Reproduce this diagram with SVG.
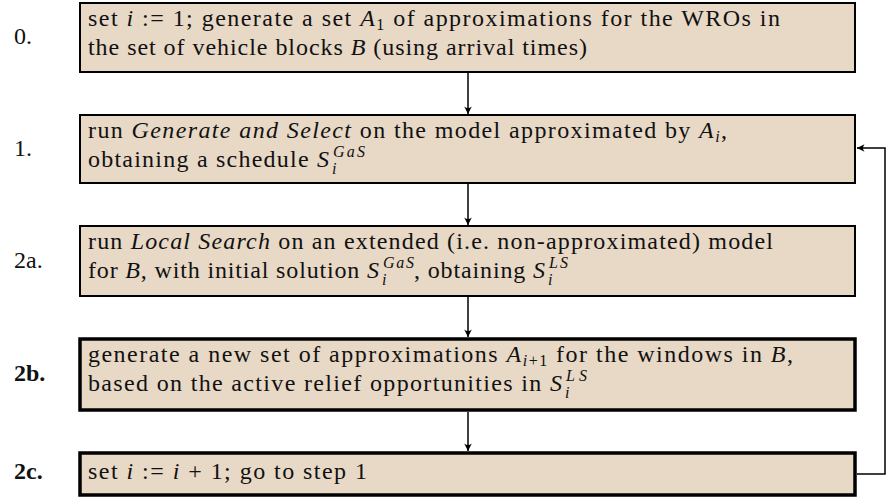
<svg xmlns="http://www.w3.org/2000/svg" width="887" height="498" viewBox="0 0 887 498">
  <defs>
    <marker id="arr" viewBox="-8 -4.5 9 9" refX="0" refY="0" markerWidth="9" markerHeight="9" markerUnits="userSpaceOnUse" orient="auto">
      <path d="M0,0 L-7.5,-3.8 Q-4.5,0 -7.5,3.8 Z" fill="#000"/>
    </marker>
  </defs>
  <style>
    .box { fill: #E8D8C6; stroke: #000; stroke-width: 2; }
    .box.heavy { stroke-width: 3.5; }
    text { font-family: "Liberation Serif", "Times New Roman", serif; font-size: 24px; fill: #111; }
    .it { font-style: italic; }
    .scr { font-size: 16px; }
    .lbl { font-size: 24px; }
    .bold { font-weight: bold; }
    .conn { fill: none; stroke: #000; stroke-width: 1.5; }
  </style>

  <g id="connectors">
    <line class="conn" x1="468" y1="73" x2="468" y2="114" marker-end="url(#arr)"/>
    <line class="conn" x1="468" y1="184" x2="468" y2="225" marker-end="url(#arr)"/>
    <line class="conn" x1="468" y1="297" x2="468" y2="337" marker-end="url(#arr)"/>
    <line class="conn" x1="468" y1="412" x2="468" y2="451" marker-end="url(#arr)"/>
    <path class="conn" d="M857,474 H885 V148 H857" marker-end="url(#arr)"/>
  </g>

  <g id="step0">
    <rect class="box" x="80" y="3" width="775" height="69"/>
    <text class="lbl" x="14" y="44">0.</text>
    <text x="88" y="26" textLength="692">set <tspan class="it">i</tspan> := 1; generate a set <tspan class="it">A</tspan><tspan class="scr" dy="4">1</tspan><tspan dy="-4"> of approximations for the WROs in</tspan></text>
    <text x="88" y="55" textLength="499">the set of vehicle blocks <tspan class="it">B</tspan> (using arrival times)</text>
  </g>

  <g id="step1">
    <rect class="box" x="80" y="115" width="775" height="68"/>
    <text class="lbl" x="14" y="156">1.</text>
    <text x="88" y="138" textLength="639">run <tspan class="it">Generate and Select</tspan> on the model approximated by <tspan class="it">A</tspan><tspan class="scr it" dy="4">i</tspan><tspan dy="-4">,</tspan></text>
    <text x="88" y="167" textLength="241">obtaining a schedule <tspan class="it">S</tspan></text>
    <text class="scr it" x="333" y="157" textLength="32">GaS</text>
    <text class="scr it" x="332" y="173.5">i</text>
  </g>

  <g id="step2a">
    <rect class="box" x="80" y="226" width="775" height="70"/>
    <text class="lbl" x="14" y="268">2a.</text>
    <text x="88" y="249" textLength="685">run <tspan class="it">Local Search</tspan> on an extended (i.e. non-approximated) model</text>
    <text x="88" y="278" textLength="291">for <tspan class="it">B</tspan>, with initial solution <tspan class="it">S</tspan></text>
    <text class="scr it" x="383" y="268" textLength="31">GaS</text>
    <text class="scr it" x="382" y="284.5">i</text>
    <text x="414" y="278" textLength="131">, obtaining <tspan class="it">S</tspan></text>
    <text class="scr it" x="549" y="268" textLength="19">LS</text>
    <text class="scr it" x="548" y="284.5">i</text>
  </g>

  <g id="step2b">
    <rect class="box heavy" x="80" y="339" width="775" height="71"/>
    <text class="lbl bold" x="14" y="381">2b.</text>
    <text x="88" y="362" textLength="705">generate a new set of approximations <tspan class="it">A</tspan><tspan class="scr it" dy="4">i</tspan><tspan class="scr">+1</tspan><tspan dy="-4"> for the windows in </tspan><tspan class="it">B</tspan>,</text>
    <text x="88" y="391" textLength="474">based on the active relief opportunities in <tspan class="it">S</tspan></text>
    <text class="scr it" x="566" y="381" textLength="21">LS</text>
    <text class="scr it" x="565" y="397.5">i</text>
  </g>

  <g id="step2c">
    <rect class="box heavy" x="80" y="453" width="775" height="42"/>
    <text class="lbl bold" x="14" y="479">2c.</text>
    <text x="88" y="479" textLength="279">set <tspan class="it">i</tspan> := <tspan class="it">i</tspan> + 1; go to step 1</text>
  </g>
</svg>
